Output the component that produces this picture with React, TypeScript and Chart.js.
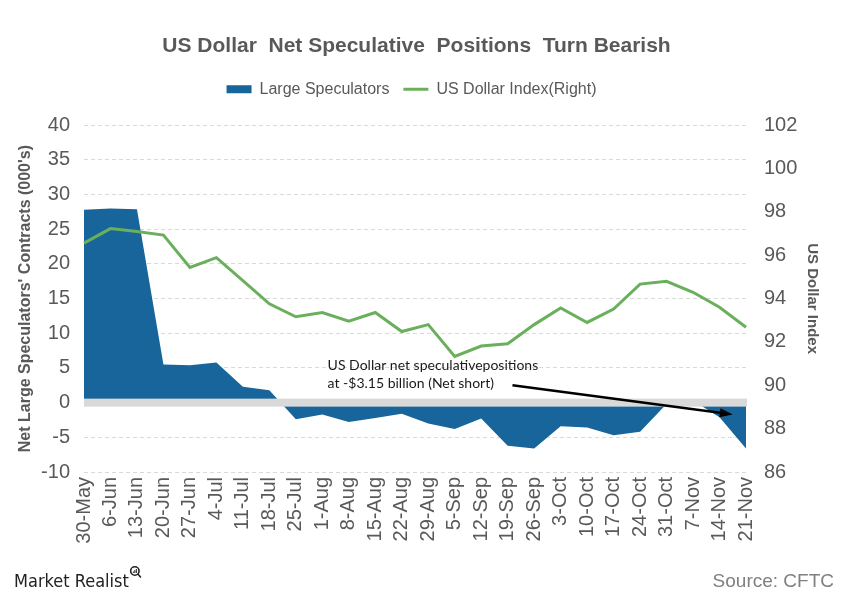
import React, { useEffect, useRef } from "react";
import { Chart, registerables } from "chart.js";

Chart.register(...registerables);

const categories = [
  "30-May", "6-Jun", "13-Jun", "20-Jun", "27-Jun", "4-Jul", "11-Jul", "18-Jul",
  "25-Jul", "1-Aug", "8-Aug", "15-Aug", "22-Aug", "29-Aug", "5-Sep", "12-Sep",
  "19-Sep", "26-Sep", "3-Oct", "10-Oct", "17-Oct", "24-Oct", "31-Oct", "7-Nov",
  "14-Nov", "21-Nov",
];

const largeSpeculators = [
  27.8, 28.0, 27.9, 5.5, 5.4, 5.8, 2.3, 1.8,
  -2.4, -1.7, -2.8, -2.2, -1.6, -3.0, -3.8, -2.3,
  -6.2, -6.6, -3.4, -3.6, -4.7, -4.2, -0.2, 0.3,
  -2.1, -6.6,
];

const dollarIndex = [
  96.56, 97.23, 97.1, 96.93, 95.44, 95.89, 94.83, 93.76,
  93.16, 93.36, 92.96, 93.36, 92.48, 92.8, 91.33, 91.81,
  91.92, 92.8, 93.57, 92.9, 93.52, 94.67, 94.8, 94.29,
  93.6, 92.68,
];

const leftTicks = { min: -10, max: 40, step: 5 };
const rightTicks = { min: 86, max: 102, step: 2 };

const annotationLines = [
  "US Dollar net speculativepositions",
  "at -$3.15 billion (Net short)",
];
// annotation anchors in data coordinates: [category index, left-axis value]
const annotationTextAnchor = [9.2, 5.4];
const arrowStart = [16.18, 2.5];
const arrowEnd = [24.5, -1.7];

const BLUE = "#17659a";
const GREEN = "#6ab05c";
const TEXT = "#595959";
const FONT = "'Liberation Sans', Arial, sans-serif";

export default function App() {
  const ref = useRef<HTMLCanvasElement | null>(null);

  useEffect(() => {
    document.body.style.margin = "0";
    const canvas = ref.current;
    if (!canvas) return;

    const headerLayout = {
      id: "headerLayout",
      beforeInit(chart: any) {
        const lg = chart.legend;
        if (!lg) return;
        const orig = lg.fit;
        lg.fit = function () {
          orig.call(this);
          this.height += 18;
        };
      },
      afterLayout(chart: any) {
        // the reference centres its header slightly left of the canvas centre
        if (chart.titleBlock) chart.titleBlock.left -= 12;
        if (chart.legend) chart.legend.left -= 22;
      },
    };

    const zeroBand = {
      id: "zeroBand",
      afterDatasetsDraw(chart: any) {
        const { ctx, chartArea, scales } = chart;
        const y0 = scales.y.getPixelForValue(0);
        ctx.save();
        ctx.fillStyle = "#d9d9d9";
        ctx.fillRect(chartArea.left, y0 - 4, chartArea.right - chartArea.left + 1, 8);
        ctx.restore();
      },
    };

    const annotation = {
      id: "annotation",
      afterDraw(chart: any) {
        const { ctx, scales } = chart;
        const xs = scales.x;
        const ys = scales.y;
        ctx.save();
        ctx.fillStyle = "#1a1a1a";
        ctx.font = "14px Lato, 'Open Sans', sans-serif";
        ctx.textBaseline = "middle";
        ctx.textAlign = "left";
        const tx = xs.getPixelForValue(annotationTextAnchor[0]);
        const ty = ys.getPixelForValue(annotationTextAnchor[1]);
        annotationLines.forEach((l, i) => ctx.fillText(l, tx, ty + i * 18.5));

        const x1 = xs.getPixelForValue(arrowStart[0]);
        const y1 = ys.getPixelForValue(arrowStart[1]);
        const x2 = xs.getPixelForValue(arrowEnd[0]);
        const y2 = ys.getPixelForValue(arrowEnd[1]);
        const ang = Math.atan2(y2 - y1, x2 - x1);
        const hl = 13, hw = 4.5;
        const bx = x2 - Math.cos(ang) * hl;
        const by = y2 - Math.sin(ang) * hl;
        ctx.strokeStyle = "#000";
        ctx.lineWidth = 2.5;
        ctx.beginPath();
        ctx.moveTo(x1, y1);
        ctx.lineTo(bx, by);
        ctx.stroke();
        ctx.fillStyle = "#000";
        ctx.beginPath();
        ctx.moveTo(x2, y2);
        ctx.lineTo(bx + Math.sin(ang) * hw, by - Math.cos(ang) * hw);
        ctx.lineTo(bx - Math.sin(ang) * hw, by + Math.cos(ang) * hw);
        ctx.closePath();
        ctx.fill();

        // footer
        ctx.textBaseline = "alphabetic";
        ctx.fillStyle = "#222";
        ctx.font = "18px 'Liberation Sans Narrow', 'DejaVu Sans Condensed', sans-serif";
        ctx.fillText("Market Realist", 14, 587);
        const mw = ctx.measureText("Market Realist").width;
        const cx = 14 + mw + 6, cy = 571;
        ctx.lineWidth = 1.6;
        ctx.strokeStyle = "#222";
        ctx.beginPath();
        ctx.arc(cx, cy, 4.2, 0, Math.PI * 2);
        ctx.stroke();
        ctx.beginPath();
        ctx.moveTo(cx + 3, cy + 3);
        ctx.lineTo(cx + 6, cy + 6.5);
        ctx.stroke();
        ctx.lineWidth = 1;
        ctx.beginPath();
        ctx.moveTo(cx - 1.5, cy + 2); ctx.lineTo(cx - 1.5, cy + 0.5);
        ctx.moveTo(cx, cy + 2); ctx.lineTo(cx, cy - 1);
        ctx.moveTo(cx + 1.5, cy + 2); ctx.lineTo(cx + 1.5, cy - 2);
        ctx.stroke();

        ctx.textAlign = "right";
        ctx.fillStyle = "#808080";
        ctx.font = "19px " + FONT;
        ctx.fillText("Source: CFTC", 834, 587);
        ctx.restore();
      },
    };

    const chart = new Chart(canvas, {
      type: "line",
      data: {
        labels: categories,
        datasets: [
          {
            label: "Large Speculators",
            data: largeSpeculators,
            yAxisID: "y",
            fill: "origin",
            backgroundColor: BLUE,
            borderColor: BLUE,
            borderWidth: 0,
            pointRadius: 0,
            tension: 0,
            order: 2,
          },
          {
            label: "US Dollar Index(Right)",
            data: dollarIndex,
            yAxisID: "y1",
            fill: false,
            borderColor: GREEN,
            backgroundColor: GREEN,
            borderWidth: 3,
            pointRadius: 0,
            tension: 0,
            order: 1,
          },
        ],
      },
      options: {
        responsive: false,
        animation: false,
        layout: { padding: { left: 0, right: 0, top: 0, bottom: 48 } },
        plugins: {
          title: {
            display: true,
            text: "US Dollar  Net Speculative  Positions  Turn Bearish",
            color: TEXT,
            font: { family: FONT, size: 21, weight: "bold" },
            padding: { top: 34, bottom: 8 },
          },
          legend: {
            display: true,
            labels: {
              color: TEXT,
              font: { family: FONT, size: 16 },
              usePointStyle: true,
              pointStyleWidth: 25,
              boxHeight: 8,
              padding: 14,
              generateLabels: () => [
                {
                  text: "Large Speculators",
                  fillStyle: BLUE,
                  strokeStyle: BLUE,
                  lineWidth: 0,
                  pointStyle: "rect",
                  datasetIndex: 0,
                  fontColor: TEXT,
                },
                {
                  text: "US Dollar Index(Right)",
                  fillStyle: GREEN,
                  strokeStyle: GREEN,
                  lineWidth: 3,
                  pointStyle: "line",
                  datasetIndex: 1,
                  fontColor: TEXT,
                },
              ],
            },
          },
          tooltip: { enabled: false },
        },
        scales: {
          x: {
            type: "category",
            offset: false,
            grid: { display: false, drawTicks: false },
            border: { display: false },
            ticks: {
              color: TEXT,
              font: { family: FONT, size: 20 },
              minRotation: 90,
              maxRotation: 90,
              autoSkip: false,
              padding: 5,
            },
            afterFit: (s: any) => { s.height = 80; },
          },
          y: {
            position: "left",
            min: leftTicks.min,
            max: leftTicks.max,
            ticks: {
              stepSize: leftTicks.step,
              color: TEXT,
              font: { family: FONT, size: 20 },
              padding: 14,
            },
            grid: { color: "#d9d9d9", lineWidth: 1, drawTicks: false },
            border: { display: false, dash: [4, 3] },
            title: {
              display: true,
              text: "Net Large Speculators' Contracts (000's)",
              color: TEXT,
              font: { family: FONT, size: 16, weight: "bold" },
              padding: { top: 16, bottom: 0 },
            },
            afterFit: (s: any) => { s.width = 84; },
          },
          y1: {
            position: "right",
            min: rightTicks.min,
            max: rightTicks.max,
            ticks: {
              stepSize: rightTicks.step,
              color: TEXT,
              font: { family: FONT, size: 20 },
              padding: 18,
            },
            grid: { display: false, drawTicks: false },
            border: { display: false },
            title: {
              display: true,
              text: "US Dollar Index",
              color: TEXT,
              font: { family: FONT, size: 15, weight: "bold" },
              padding: { top: 24, bottom: 0 },
            },
            afterFit: (s: any) => { s.width = 99; },
          },
        },
      },
      plugins: [headerLayout, zeroBand, annotation],
    } as any);

    return () => chart.destroy();
  }, []);

  return <canvas ref={ref} width={845} height={600} style={{ display: "block" }} />;
}
